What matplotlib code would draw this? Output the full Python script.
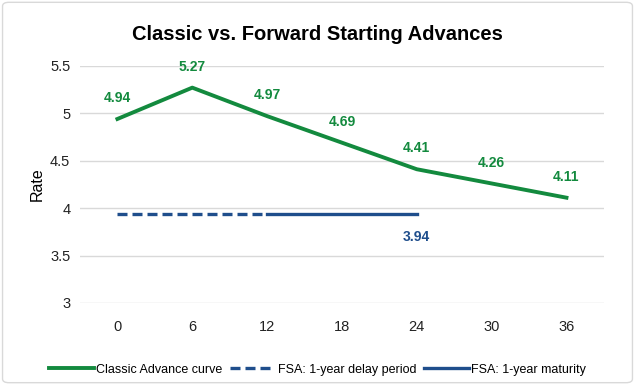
import matplotlib.pyplot as plt
from matplotlib.patches import FancyBboxPatch

# Daten
months = [0, 6, 12, 18, 24, 30, 36]
classic_rates = [4.94, 5.27, 4.97, 4.69, 4.41, 4.26, 4.11]
delay_months = [0, 6, 12]
delay_rates = [3.94, 3.94, 3.94]
maturity_months = [12, 18, 24]
maturity_rates = [3.94, 3.94, 3.94]
fsa_label_month = 24
fsa_label_rate = 3.94

green = "#138a3e"
blue = "#1f4e8c"

plt.rcParams["font.family"] = ["Liberation Sans Narrow", "Liberation Sans", "DejaVu Sans"]

fig = plt.figure(figsize=(6.35, 3.85), dpi=100)
ax = fig.add_axes([0.126, 0.213, 0.825, 0.616])

# Rahmen um die ganze Grafik
frame = FancyBboxPatch((0.004, 0.006), 0.992, 0.988, boxstyle="round,pad=0,rounding_size=0.01",
                       transform=fig.transFigure, facecolor="none", edgecolor="#d9d9d9", linewidth=1)
fig.patches.append(frame)

ax.plot(months, classic_rates, color=green, linewidth=2.8, label="Classic Advance curve")
ax.plot(delay_months, delay_rates, color=blue, linewidth=2.4, linestyle=(0, (3, 1.5)),
        label="FSA: 1-year delay period")
ax.plot(maturity_months, maturity_rates, color=blue, linewidth=2.4, label="FSA: 1-year maturity")

for m, r in zip(months, classic_rates):
    ax.annotate(f"{r:.2f}", (m, r), xytext=(0, 15), textcoords="offset points",
                ha="center", va="center", color=green, fontsize=10, fontweight="bold")
ax.annotate(f"{fsa_label_rate:.2f}", (fsa_label_month, fsa_label_rate), xytext=(0, -17),
            textcoords="offset points", ha="center", va="center", color=blue,
            fontsize=10, fontweight="bold")

ax.set_xlim(-3, 39)
ax.set_ylim(3, 5.5)
ax.set_xticks(months)
ax.set_yticks([3, 3.5, 4, 4.5, 5, 5.5])
ax.set_yticklabels(["3", "3.5", "4", "4.5", "5", "5.5"])
ax.tick_params(length=0, labelsize=10.5, colors="#222222", pad=7)
ax.tick_params(axis="x", pad=12)
ax.grid(axis="y", color="#d9d9d9", linewidth=1)
ax.set_axisbelow(True)
for s in ax.spines.values():
    s.set_visible(False)
ax.set_ylabel("Rate", fontsize=11.5, labelpad=4)

fig.suptitle("Classic vs. Forward Starting Advances", y=0.935, fontsize=14.5, fontweight="bold")

fig.legend(loc="lower center", bbox_to_anchor=(0.5, -0.005), ncol=3, frameon=False, fontsize=9,
           handlelength=3.6, handletextpad=0.2, columnspacing=0.6)

plt.savefig("out.png", dpi=100)
plt.close()
